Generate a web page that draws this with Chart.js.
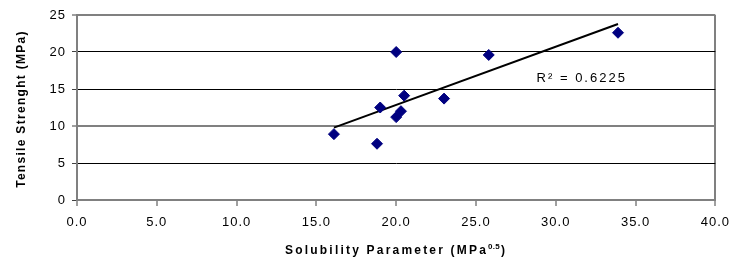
<!DOCTYPE html>
<html><head><meta charset="utf-8">
<script src="https://cdn.jsdelivr.net/npm/chart.js@4"></script>
<style>html,body{margin:0;padding:0;background:#fff;}#wrap{width:737px;height:262px;position:relative;}</style>
</head><body>
<div id="wrap"><canvas id="c" width="737" height="262"></canvas></div>
<script>
const solubility = [16.1, 20.0, 25.8, 33.9, 20.5, 19.0, 20.3, 20.0, 23.0, 18.8];
const tensile    = [8.9, 20.0, 19.6, 22.6, 14.1, 12.5, 12.0, 11.2, 13.7, 7.6];
const xTicks = [0, 5, 10, 15, 20, 25, 30, 35, 40];
const yTicks = [0, 5, 10, 15, 20, 25];
const r2Label = "R² = 0.6225";
const yTitle = "Tensile Strenght (MPa)";
const xTitle = "Solubility Parameter (MPa";
const xTitleSup = "0.5";

// least-squares trend line from the data
const n = solubility.length;
const mx = solubility.reduce((a,b)=>a+b,0)/n, my = tensile.reduce((a,b)=>a+b,0)/n;
let sxy=0, sxx=0;
for (let i=0;i<n;i++){ sxy+=(solubility[i]-mx)*(tensile[i]-my); sxx+=(solubility[i]-mx)**2; }
const slope=sxy/sxx, icpt=my-slope*mx;
const xmin=Math.min(...solubility), xmax=Math.max(...solubility);
const trend=[{x:xmin,y:icpt+slope*xmin},{x:xmax,y:icpt+slope*xmax}];

const points = solubility.map((x,i)=>({x, y:tensile[i]}));
const FONT = "Arial, 'Liberation Sans', sans-serif";

const spacingPlugin = {
  id:'spacing',
  beforeDraw(chart){ chart.ctx.letterSpacing='1px'; },
  beforeDatasetsDraw(chart){ chart.ctx.letterSpacing='0px'; }
};

const textPlugin = {
  id:'texts',
  afterDraw(chart){
    const ctx=chart.ctx, a=chart.chartArea, xs=chart.scales.x, ys=chart.scales.y;
    ctx.save();
    ctx.fillStyle='#000';
    // y title
    ctx.font="bold 12px "+FONT;
    ctx.letterSpacing='1.3px';
    ctx.textAlign='center'; ctx.textBaseline='middle';
    ctx.translate(22,109);
    ctx.rotate(-Math.PI/2);
    ctx.fillText(yTitle,0,0);
    ctx.setTransform(1,0,0,1,0,0);
    // x title with superscript
    ctx.letterSpacing='2.2px';
    ctx.font="bold 12px "+FONT;
    const w1=ctx.measureText(xTitle).width;
    ctx.letterSpacing='0.3px';
    ctx.font="bold 8px "+FONT;
    const w2=ctx.measureText(xTitleSup).width+1;
    ctx.letterSpacing='2.2px';
    ctx.font="bold 12px "+FONT;
    const w3=ctx.measureText(")").width;
    let sx=(a.left+a.right)/2-(w1+w2+w3)/2, by=254;
    ctx.textAlign='left'; ctx.textBaseline='alphabetic';
    ctx.fillText(xTitle,sx,by);
    ctx.letterSpacing='0.3px';
    ctx.font="bold 8px "+FONT;
    ctx.fillText(xTitleSup,sx+w1,by-5);
    ctx.letterSpacing='2.2px';
    ctx.font="bold 12px "+FONT;
    ctx.fillText(")",sx+w1+w2,by);
    // R^2 label
    ctx.letterSpacing='2px';
    ctx.font="13px "+FONT;
    ctx.fillText(r2Label, xs.getPixelForValue(28.8), ys.getPixelForValue(16.0));
    ctx.restore();
  }
};

new Chart(document.getElementById('c'), {
  type:'scatter',
  data:{datasets:[
    {data:points, pointStyle:'rectRot', pointRadius:5.5, pointHoverRadius:5.5,
     backgroundColor:'#000080', borderColor:'#000080', borderWidth:1, order:1},
    {type:'line', data:trend, borderColor:'#000', borderWidth:2, pointRadius:0, fill:false, order:2}
  ]},
  options:{
    responsive:false, animation:false, devicePixelRatio:1,
    layout:{padding:{left:0, top:15, right:18, bottom:0}},
    plugins:{legend:{display:false}, tooltip:{enabled:false}},
    scales:{
      x:{type:'linear', min:0, max:40,
        afterBuildTicks:s=>{s.ticks=xTicks.map(v=>({value:v}));},
        afterFit:s=>{s.height=62;},
        ticks:{callback:v=>v.toFixed(1), color:'#000', font:{family:FONT,size:13}, padding:9, maxRotation:0},
        grid:{color:c=>c.tick&&c.tick.value===40?'#808080':'rgba(0,0,0,0)', lineWidth:2, tickColor:'#404040', tickLength:6, tickWidth:1},
        border:{color:'#808080', width:2}
      },
      y:{min:0, max:25,
        afterBuildTicks:s=>{s.ticks=yTicks.map(v=>({value:v}));},
        afterFit:s=>{s.width=77;},
        ticks:{color:'#000', font:{family:FONT,size:13}, padding:6},
        grid:{color:c=>{const v=c.tick&&c.tick.value;return (v===25||v===10||v===0)?'#808080':'#000';},
              lineWidth:c=>{const v=c.tick&&c.tick.value;return (v===25||v===10)?2:1;},
              tickColor:'#404040', tickLength:5, tickWidth:1},
        border:{color:'#808080', width:2}
      }
    }
  },
  plugins:[spacingPlugin, textPlugin]
});
</script>
</body></html>
